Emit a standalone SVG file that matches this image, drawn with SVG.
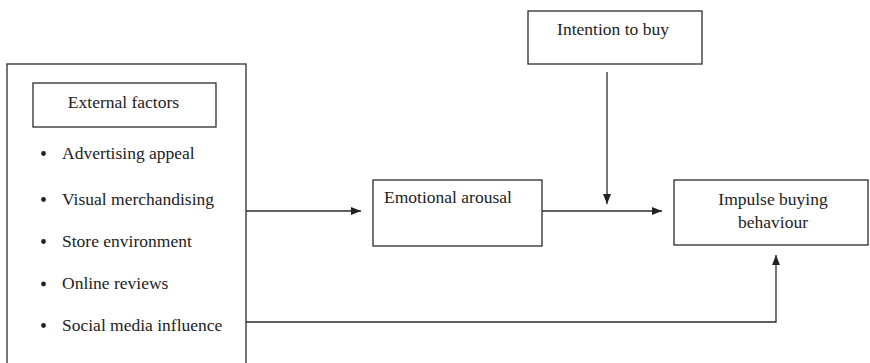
<svg xmlns="http://www.w3.org/2000/svg" width="870" height="363" viewBox="0 0 870 363">
  <style>
    .box { fill: #ffffff; stroke: #2b2b2b; stroke-width: 1.3; }
    .lbl { font-family: "Liberation Serif", "Times New Roman", serif; font-size: 17.5px; fill: #222222; }
    .mid { text-anchor: middle; }
    .wire { fill: none; stroke: #2b2b2b; stroke-width: 1.3; }
  </style>
  <defs>
    <marker id="head" markerWidth="10" markerHeight="8" refX="10" refY="4" orient="auto" markerUnits="userSpaceOnUse">
      <path d="M0,0 L10,4 L0,8 Z" fill="#222222"/>
    </marker>
  </defs>
  <rect width="870" height="363" fill="#ffffff"/>

  <g id="external-factors">
    <rect class="box" x="7" y="64" width="239" height="310"/>
    <rect class="box" x="33" y="83" width="183" height="44"/>
    <text class="lbl mid" x="123.5" y="108">External factors</text>
    <g fill="#222222">
      <circle cx="43.5" cy="153.5" r="2.4"/>
      <circle cx="43.5" cy="199.5" r="2.4"/>
      <circle cx="43.5" cy="241.5" r="2.4"/>
      <circle cx="43.5" cy="284" r="2.4"/>
      <circle cx="43.5" cy="325.5" r="2.4"/>
    </g>
    <text class="lbl" x="62" y="159">Advertising appeal</text>
    <text class="lbl" x="62" y="205">Visual merchandising</text>
    <text class="lbl" x="62" y="247">Store environment</text>
    <text class="lbl" x="62" y="289">Online reviews</text>
    <text class="lbl" x="62" y="331">Social media influence</text>
  </g>

  <g id="emotional-arousal">
    <rect class="box" x="373" y="180" width="169" height="66"/>
    <text class="lbl" x="384" y="203">Emotional arousal</text>
  </g>

  <g id="intention-to-buy">
    <rect class="box" x="528" y="11" width="174" height="53"/>
    <text class="lbl mid" x="613" y="35">Intention to buy</text>
  </g>

  <g id="impulse-buying">
    <rect class="box" x="674" y="180" width="194" height="65"/>
    <text class="lbl mid" x="773" y="205">Impulse buying</text>
    <text class="lbl mid" x="773" y="228">behaviour</text>
  </g>

  <g id="connectors">
    <line class="wire" x1="246" y1="211" x2="361" y2="211" marker-end="url(#head)"/>
    <line class="wire" x1="542" y1="211" x2="662" y2="211" marker-end="url(#head)"/>
    <line class="wire" x1="607" y1="72" x2="607" y2="204" marker-end="url(#head)"/>
    <polyline class="wire" points="246,322 776,322 776,255" marker-end="url(#head)"/>
  </g>
</svg>
